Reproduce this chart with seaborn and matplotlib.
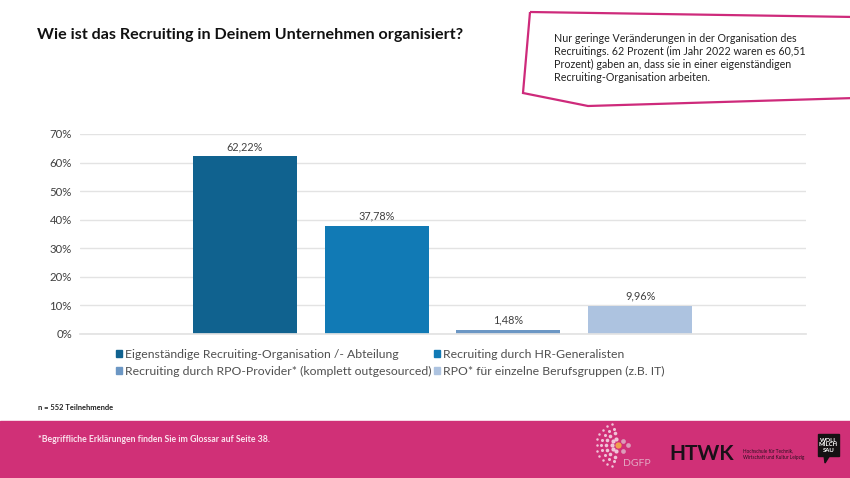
import matplotlib
matplotlib.use("Agg")
import matplotlib.pyplot as plt
from matplotlib.patches import Rectangle, Polygon
from matplotlib.lines import Line2D
import seaborn as sns
import pandas as pd
import math

categories = ["Eigenständige Recruiting-Organisation /- Abteilung",
              "Recruiting durch HR-Generalisten",
              "Recruiting durch RPO-Provider* (komplett outgesourced)",
              "RPO* für einzelne Berufsgruppen (z.B. IT)"]
values = [62.22, 37.78, 1.48, 9.96]
value_labels = ["62,22%", "37,78%", "1,48%", "9,96%"]
colors = ["#10628F", "#117AB5", "#6C97C4", "#ADC3E0"]
y_ticks = [0, 10, 20, 30, 40, 50, 60, 70]

W, H = 850, 478
sns.set_theme(style="white")
plt.rcParams["font.family"] = ["Lato", "DejaVu Sans"]

fig = plt.figure(figsize=(W / 100, H / 100), dpi=100, facecolor="white")
def fx(p): return p / W
def fy(p): return 1 - p / H

L, R, T, B = 80, 806, 134, 334
ax = fig.add_axes([fx(L), fy(B), (R - L) / W, (B - T) / H])
df = pd.DataFrame({"cat": categories, "val": values})
sns.barplot(data=df, x="cat", y="val", hue="cat", palette=colors, dodge=False,
            width=0.79, legend=False, ax=ax, saturation=1, linewidth=0, edgecolor="none")
step = 131.7
ax.set_xlim((L - 245) / step, (R - 245) / step)
ax.set_ylim(0, 70)
ax.set_yticks(y_ticks)
ax.set_yticklabels([f"{t}%" for t in y_ticks], fontsize=8.2, color="#404040")
ax.set_xticks([])
ax.set_xlabel(""); ax.set_ylabel("")
ax.tick_params(axis="y", length=0, pad=5.8)
ax.grid(axis="y", color="#E3E3E3", linewidth=1)
ax.set_axisbelow(True)
for s in ["top", "right", "left"]:
    ax.spines[s].set_visible(False)
ax.spines["bottom"].set_color("#E3E3E3")
for i, (v, lab) in enumerate(zip(values, value_labels)):
    ax.annotate(lab, (i, v), xytext=(0, 3), textcoords="offset points", ha="center",
                va="bottom", fontsize=7.8, color="#404040")

# legend: reads row by row in the reference
order = [0, 2, 1, 3]
handles = [Rectangle((0, 0), 1, 1, color=colors[i]) for i in order]
fig.legend(handles, [categories[i] for i in order], ncols=2, loc="upper left",
           bbox_to_anchor=(fx(116), fy(348.5)), frameon=False, fontsize=8.85,
           labelcolor="#505050", handlelength=0.5, handleheight=0.5,
           handletextpad=0.2, columnspacing=0.25, labelspacing=0.55,
           borderpad=0, borderaxespad=0)

# titles and notes
fig.text(fx(37), fy(35), "Wie ist das Recruiting in Deinem Unternehmen organisiert?",
         fontsize=11.6, fontweight="bold", color="#111111", va="center")
fig.text(fx(38), fy(408), "n = 552 Teilnehmende", fontsize=5.4, color="#222222", va="center", fontweight="bold")

# callout
fig.add_artist(Polygon([(fx(530), fy(12)), (fx(855), fy(17)), (fx(855), fy(98)),
                        (fx(588), fy(106)), (fx(523), fy(93))], closed=True,
                       transform=fig.transFigure, fill=False, edgecolor="#CE2A7B", linewidth=1.6))
callout = ["Nur geringe Veränderungen in der Organisation des",
           "Recruitings. 62 Prozent (im Jahr 2022 waren es 60,51",
           "Prozent) gaben an, dass sie in einer eigenständigen",
           "Recruiting-Organisation arbeiten."]
for i, line in enumerate(callout):
    fig.text(fx(554), fy(38.5 + i * 13), line, fontsize=7.65, color="#222222", va="center")

# footer band
fig.add_artist(Rectangle((0, 0), 1, fy(421), transform=fig.transFigure, color="#D03077", zorder=1))
fig.text(fx(38), fy(440), "*Begriffliche Erklärungen finden Sie im Glossar auf Seite 38.",
         fontsize=6.3, color="#FBE3EE", va="center", fontweight="bold", zorder=3)
fig.text(fx(623), fy(463), "DGFP", fontsize=7.5, color="#E3A9C3", va="center", zorder=3)
fig.text(fx(669), fy(454), "HTWK", fontsize=15, fontweight="bold", color="#1A1018", va="center", zorder=3)
fig.text(fx(743), fy(454), "Hochschule für Technik,\nWirtschaft und Kultur Leipzig", fontsize=3.4,
         color="#2A1020", va="center", linespacing=1.3, zorder=3)
fig.add_artist(Rectangle((fx(818), fy(456)), 21 / W, 22 / H, transform=fig.transFigure,
                         color="#151113", zorder=2))
fig.add_artist(Polygon([(fx(824), fy(455)), (fx(830), fy(455)), (fx(825), fy(463))], closed=True,
                       transform=fig.transFigure, color="#151113", zorder=2))
fig.text(fx(828.5), fy(445), "WOLL\nMILCH\nSAU", fontsize=4.3, fontweight="bold", color="white",
         ha="center", va="center", linespacing=1.0, zorder=3)
# DGFP dot logo: a fan opening to the left of the orange centre
cx, cy = 618, 445
for radius, size, n in [(6.5, 3.0, 5), (12, 2.6, 7), (17, 2.2, 9), (21.5, 1.8, 11)]:
    xs, ys = [], []
    for k in range(n):
        a = math.radians(105 + 150 * k / (n - 1))
        xs.append(fx(cx + radius * math.cos(a)))
        ys.append(fy(cy + radius * math.sin(a)))
    fig.add_artist(Line2D(xs, ys, transform=fig.transFigure, linestyle="none", marker="o",
                          markersize=size, markeredgewidth=0, color="#F0C4D8", zorder=3))
fig.add_artist(Line2D([fx(623), fx(628), fx(623)], [fy(441), fy(445), fy(451)], transform=fig.transFigure,
                      linestyle="none", marker="o", markersize=3.4, markeredgewidth=0,
                      color="#DC9DB9", zorder=3))
fig.add_artist(Line2D([fx(cx)], [fy(cy)], transform=fig.transFigure, linestyle="none", marker="o",
                      markersize=4.5, markeredgewidth=0, color="#F0A050", zorder=3))

fig.savefig("out.png", dpi=100)
